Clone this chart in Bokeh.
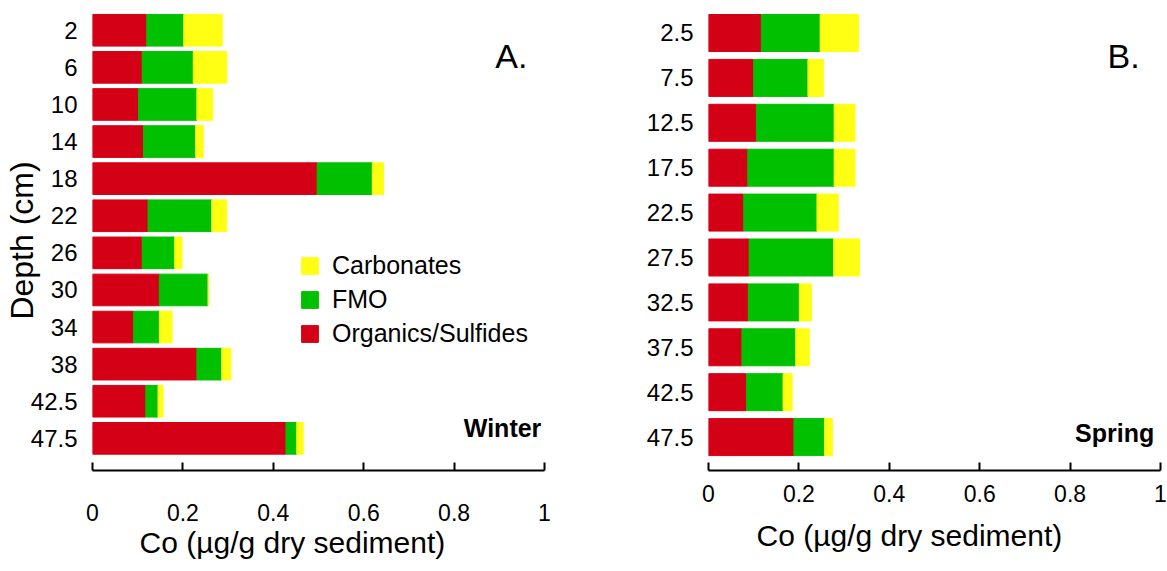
from bokeh.plotting import figure
from bokeh.models import ColumnDataSource, Range1d, FixedTicker, Legend, LegendItem, Label, Title
from bokeh.layouts import row
from bokeh.embed import file_html
from bokeh.resources import INLINE

# ---------------- data ----------------
components = ["Organics/Sulfides", "FMO", "Carbonates"]
colors = ["#D40016", "#00C000", "#FFFF14"]

winter_depths = ["2", "6", "10", "14", "18", "22", "26", "30", "34", "38", "42.5", "47.5"]
winter_org = [0.120, 0.110, 0.102, 0.113, 0.497, 0.123, 0.110, 0.148, 0.091, 0.231, 0.118, 0.428]
winter_fmo = [0.082, 0.113, 0.129, 0.115, 0.122, 0.141, 0.072, 0.108, 0.057, 0.055, 0.027, 0.024]
winter_carb = [0.085, 0.074, 0.035, 0.017, 0.025, 0.033, 0.016, 0.000, 0.028, 0.020, 0.011, 0.014]

spring_depths = ["2.5", "7.5", "12.5", "17.5", "22.5", "27.5", "32.5", "37.5", "42.5", "47.5"]
spring_org = [0.117, 0.100, 0.106, 0.087, 0.078, 0.090, 0.088, 0.074, 0.084, 0.189]
spring_fmo = [0.130, 0.120, 0.172, 0.191, 0.162, 0.187, 0.113, 0.119, 0.081, 0.068]
spring_carb = [0.085, 0.034, 0.046, 0.046, 0.047, 0.057, 0.027, 0.030, 0.020, 0.017]

x_ticks = [0, 0.2, 0.4, 0.6, 0.8, 1.0]
x_tick_labels = ["0", "0.2", "0.4", "0.6", "0.8", "1"]

x_label = "Co (µg/g dry sediment)"
y_label = "Depth (cm)"

FONT = "Liberation Sans"


def make_panel(depths, org, fmo, carb, width, height, y_start, y_end, bar_h,
               min_left, min_right, min_top, min_bottom,
               tick_standoff, xlab_offset, xlab_standoff):
    pos = list(range(len(depths)))
    src = ColumnDataSource(dict(y=pos, org=org, fmo=fmo, carb=carb))
    p = figure(width=width, height=height, output_backend="svg", toolbar_location=None,
               x_range=Range1d(0, 1), y_range=Range1d(y_start, y_end),
               min_border_left=min_left, min_border_right=min_right,
               min_border_top=min_top, min_border_bottom=min_bottom)
    p.outline_line_color = None
    p.grid.visible = False
    p.background_fill_color = "white"
    renderers = p.hbar_stack(["org", "fmo", "carb"], y="y", height=bar_h,
                             color=colors, source=src)

    xa = p.xaxis[0]
    xa.ticker = FixedTicker(ticks=x_ticks)
    xa.major_label_overrides = {t: l for t, l in zip(x_ticks, x_tick_labels)}
    xa.minor_tick_line_color = None
    xa.major_tick_in = 8
    xa.major_tick_out = 0
    xa.major_tick_line_width = 2
    xa.axis_line_width = 2
    xa.axis_line_color = "black"
    xa.major_tick_line_color = "black"
    xa.major_label_text_font = FONT
    xa.major_label_text_font_size = "23px"
    xa.major_label_text_color = "black"
    xa.major_label_standoff = tick_standoff

    # x-axis title (positioned like the original: left of the frame centre)
    p.add_layout(Title(text=x_label, align="left", offset=xlab_offset,
                       standoff=xlab_standoff, text_font=FONT, text_font_size="30px",
                       text_font_style="normal", text_color="black"), "below")

    ya = p.yaxis[0]
    ya.ticker = FixedTicker(ticks=pos)
    ya.major_label_overrides = {i: d for i, d in zip(pos, depths)}
    ya.axis_line_color = None
    ya.major_tick_line_color = None
    ya.minor_tick_line_color = None
    ya.major_label_text_font = FONT
    ya.major_label_text_font_size = "24px"
    ya.major_label_text_color = "black"
    ya.major_label_standoff = 9
    return p, renderers


# ---------------- panel A (winter) ----------------
pA, rA = make_panel(winter_depths, winter_org, winter_fmo, winter_carb,
                    width=625, height=571, y_start=11.867, y_end=-0.533, bar_h=0.853,
                    min_left=92, min_right=81, min_top=10, min_bottom=92,
                    tick_standoff=33, xlab_offset=47, xlab_standoff=0)

ya = pA.yaxis[0]
ya.axis_label = y_label
ya.axis_label_text_font = FONT
ya.axis_label_text_font_size = "32px"
ya.axis_label_text_font_style = "normal"
ya.axis_label_text_color = "black"
ya.axis_label_standoff = -12

legend = Legend(items=[LegendItem(label=components[2], renderers=[rA[2]]),
                       LegendItem(label=components[1], renderers=[rA[1]]),
                       LegendItem(label=components[0], renderers=[rA[0]])],
                location=(207, 122), glyph_width=21, glyph_height=21,
                label_standoff=12, spacing=5, padding=0, margin=0,
                label_text_font=FONT, label_text_font_size="25px",
                label_text_color="black",
                border_line_color=None, background_fill_alpha=0)
pA.add_layout(legend)

pA.add_layout(Label(x=0.891, y=0.693, text="A.", text_font=FONT, text_font_size="34px",
                    text_color="black", text_align="left", text_baseline="alphabetic"))
pA.add_layout(Label(x=0.993, y=10.72, text="Winter", text_font=FONT, text_font_size="25px",
                    text_font_style="bold", text_color="black", text_align="right",
                    text_baseline="alphabetic"))

# ---------------- panel B (spring) ----------------
pB, rB = make_panel(spring_depths, spring_org, spring_fmo, spring_carb,
                    width=542, height=571, y_start=9.744, y_end=-0.501, bar_h=0.824,
                    min_left=83, min_right=7, min_top=10, min_bottom=101,
                    tick_standoff=14, xlab_offset=48, xlab_standoff=24)

pB.add_layout(Label(x=0.883, y=0.523, text="B.", text_font=FONT, text_font_size="34px",
                    text_color="black", text_align="left", text_baseline="alphabetic"))
pB.add_layout(Label(x=0.986, y=8.90, text="Spring", text_font=FONT, text_font_size="25px",
                    text_font_style="bold", text_color="black", text_align="right",
                    text_baseline="alphabetic"))

layout = row(pA, pB)
open("out.html", "w").write(file_html(layout, INLINE))
